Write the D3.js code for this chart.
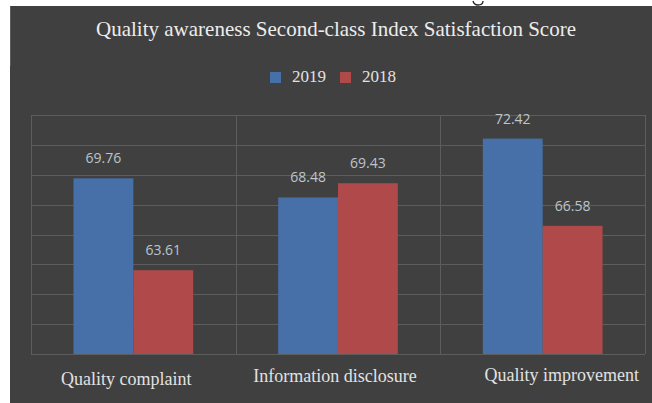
<!DOCTYPE html>
<html>
<head>
<meta charset="utf-8">
<script src="https://cdn.jsdelivr.net/npm/d3@7"></script>
<style>
	html, body { margin: 0; padding: 0; background: #ffffff; }
	svg { display: block; }
</style>
</head>
<body>
<svg id="chart" width="652" height="403"></svg>
<script>
	// chart data
	const categories = [ 'Quality complaint', 'Information disclosure', 'Quality improvement' ];
	const seriesNames = [ '2019', '2018' ];
	const values2019 = [ 69.76, 68.48, 72.42 ];
	const values2018 = [ 63.61, 69.43, 66.58 ];
	const yTicks = [ 58, 60, 62, 64, 66, 68, 70, 72, 74 ];
	const titleText = 'Quality awareness Second-class Index Satisfaction Score';

	const colors = { '2019': '#4670a8', '2018': '#b04a48' };

	let svg = d3.select( '#chart' );

	// dark panel
	svg.append( 'rect' )
		.attr( 'x', 10 ).attr( 'y', 6 )
		.attr( 'width', 642 ).attr( 'height', 397 )
		.attr( 'fill', '#404040' );
	svg.append( 'line' )
		.attr( 'x1', 10.5 ).attr( 'x2', 10.5 ).attr( 'y1', 6 ).attr( 'y2', 66 )
		.attr( 'stroke', '#5c5c5c' );

	// descender of a glyph from the page text above (drawn as a stroke)
	svg.append( 'path' )
		.attr( 'd', 'M473,1 Q474,5 478,5 Q483,5 483,1' )
		.attr( 'fill', 'none' )
		.attr( 'stroke', '#222' )
		.attr( 'stroke-width', 1.3 );

	let x0 = d3.scaleBand().domain( categories ).range( [ 31, 645 ] ).padding( 0 ),
		x1 = d3.scaleBand().domain( seriesNames ).range( [ 0, x0.bandwidth() ] ).paddingInner( 0 ).paddingOuter( 0.71 ),
		y = d3.scaleLinear().domain( [ 58, 74 ] ).range( [ 354, 115 ] );

	// grid
	let grid = svg.append( 'g' ).attr( 'id', 'grid' );
	grid.selectAll( 'line.h' ).data( yTicks )
		.enter().append( 'line' )
		.attr( 'class', 'h' )
		.attr( 'x1', 31 ).attr( 'x2', 645 )
		.attr( 'y1', d => Math.round( y( d ) ) + 0.5 )
		.attr( 'y2', d => Math.round( y( d ) ) + 0.5 )
		.attr( 'stroke', '#5d5d5d' );
	let vx = categories.map( c => x0( c ) ).concat( [ x0.range()[ 1 ] ] );
	grid.selectAll( 'line.v' ).data( vx )
		.enter().append( 'line' )
		.attr( 'class', 'v' )
		.attr( 'x1', d => Math.round( d ) + 0.5 ).attr( 'x2', d => Math.round( d ) + 0.5 )
		.attr( 'y1', y( 74 ) ).attr( 'y2', y( 58 ) )
		.attr( 'stroke', '#5d5d5d' );

	// soft glow on bars
	let defs = svg.append( 'defs' );
	defs.append( 'filter' ).attr( 'id', 'soft' )
		.attr( 'x', '-10%' ).attr( 'y', '-10%' ).attr( 'width', '120%' ).attr( 'height', '120%' )
		.append( 'feGaussianBlur' ).attr( 'stdDeviation', 0.7 );

	let rows = categories.map( ( c, i ) => ( { cat: c, vals: [
		{ key: '2019', v: values2019[ i ] },
		{ key: '2018', v: values2018[ i ] }
	] } ) );

	let groups = svg.selectAll( 'g.cat' ).data( rows )
		.enter().append( 'g' )
		.attr( 'class', 'cat' )
		.attr( 'transform', d => 'translate(' + x0( d.cat ) + ',0)' );

	groups.selectAll( 'rect' ).data( d => d.vals )
		.enter().append( 'rect' )
		.attr( 'x', d => x1( d.key ) )
		.attr( 'y', d => y( d.v ) )
		.attr( 'width', x1.bandwidth() )
		.attr( 'height', d => y( 58 ) - y( d.v ) )
		.attr( 'fill', d => colors[ d.key ] )
		.attr( 'filter', 'url(#soft)' );

	groups.selectAll( 'text.val' ).data( d => d.vals )
		.enter().append( 'text' )
		.attr( 'class', 'val' )
		.attr( 'x', d => x1( d.key ) + x1.bandwidth() / 2 )
		.attr( 'y', d => y( d.v ) - 15 )
		.attr( 'text-anchor', 'middle' )
		.style( 'font', '14px "Open Sans", sans-serif' )
		.attr( 'fill', '#bcc4cc' )
		.text( d => d.v.toFixed( 2 ) );

	// category labels (slightly uneven in the original)
	const labelNudge = [ [ -7, 385 ], [ -3, 382 ], [ 19, 381 ] ];
	svg.selectAll( 'text.cat' ).data( categories )
		.enter().append( 'text' )
		.attr( 'class', 'cat' )
		.attr( 'x', ( d, i ) => x0( d ) + x0.bandwidth() / 2 + labelNudge[ i ][ 0 ] )
		.attr( 'y', ( d, i ) => labelNudge[ i ][ 1 ] )
		.attr( 'text-anchor', 'middle' )
		.style( 'font', '18px "Liberation Serif", "Times New Roman", serif' )
		.attr( 'fill', '#e2e2e2' )
		.text( d => d );

	// title
	svg.append( 'text' )
		.attr( 'x', 336 ).attr( 'y', 36 )
		.attr( 'text-anchor', 'middle' )
		.style( 'font', '21px "Liberation Serif", "Times New Roman", serif' )
		.attr( 'fill', '#ececec' )
		.text( titleText );

	// legend
	let legend = svg.append( 'g' ).attr( 'transform', 'translate(270,72)' );
	let items = legend.selectAll( 'g' ).data( seriesNames )
		.enter().append( 'g' )
		.attr( 'transform', ( d, i ) => 'translate(' + ( i * 70 ) + ',0)' );
	items.append( 'rect' )
		.attr( 'width', 11 ).attr( 'height', 11 )
		.attr( 'fill', d => colors[ d ] );
	items.append( 'text' )
		.attr( 'x', 22 ).attr( 'y', 10 )
		.style( 'font', '17px "Liberation Serif", "Times New Roman", serif' )
		.attr( 'fill', '#e2e2e2' )
		.text( d => d );
</script>
</body>
</html>
